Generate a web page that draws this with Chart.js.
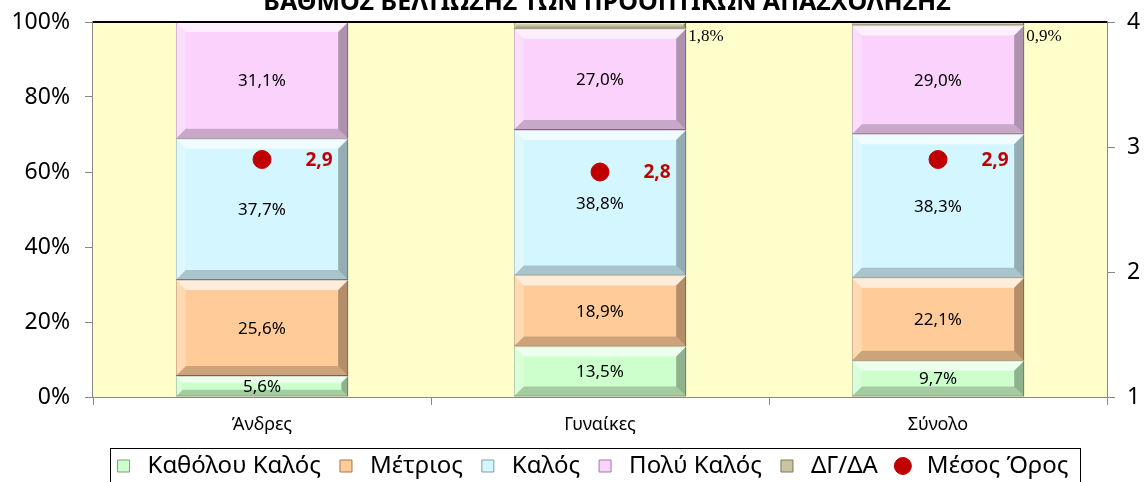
<!DOCTYPE html>
<html lang="el">
<head>
    <meta charset="UTF-8">
    <title>Βαθμός βελτίωσης των προοπτικών απασχόλησης</title>
    <style>
        body { margin: 0; padding: 0; background: #fff; }
        #wrap { width: 1148px; height: 482px; }
    </style>
</head>
<body>
    <div id="wrap"><canvas id="chart" width="1148" height="482"></canvas></div>

    <script src="https://cdn.jsdelivr.net/npm/chart.js"></script>
    <script>
        // Δεδομένα
        const categories = ['Άνδρες', 'Γυναίκες', 'Σύνολο'];
        const katholou = [5.6, 13.5, 9.7];
        const metrios = [25.6, 18.9, 22.1];
        const kalos = [37.7, 38.8, 38.3];
        const polyKalos = [31.1, 27.0, 29.0];
        const dgda = [0, 1.8, 0.9];
        const mesosOros = [2.9, 2.8, 2.9];
        const percentTicks = [0, 20, 40, 60, 80, 100];
        const meanTicks = [1, 2, 3, 4];

        const title = 'ΒΑΘΜΟΣ ΒΕΛΤΙΩΣΗΣ ΤΩΝ ΠΡΟΟΠΤΙΚΩΝ ΑΠΑΣΧΟΛΗΣΗΣ';
        const font = "'Noto Sans', sans-serif";
        const fmt = v => v.toFixed(1).replace('.', ',');

        function barSet(label, data, fill, border) {
            return {
                type: 'bar', label: label, data: data,
                backgroundColor: fill, borderColor: border, borderWidth: 1,
                borderSkipped: false, stack: 's', yAxisID: 'y',
                barPercentage: 0.51, categoryPercentage: 1, pointStyle: 'rect', order: 2
            };
        }

        function poly(ctx, pts, color) {
            ctx.fillStyle = color;
            ctx.beginPath();
            ctx.moveTo(pts[0][0], pts[0][1]);
            for (let k = 1; k < pts.length; k++) ctx.lineTo(pts[k][0], pts[k][1]);
            ctx.closePath();
            ctx.fill();
        }

        // ανάγλυφο στις μπάρες
        function bevel(ctx, el) {
            const l = el.x - el.width / 2, r = el.x + el.width / 2;
            const t = Math.min(el.y, el.base), bt = Math.max(el.y, el.base);
            const h = bt - t;
            if (h < 1) return;
            const b = Math.min(10, h / 3);
            poly(ctx, [[l, t], [r, t], [r - b, t + b], [l + b, t + b]], 'rgba(255,255,255,0.65)');
            poly(ctx, [[l, bt], [r, bt], [r - b, bt - b], [l + b, bt - b]], 'rgba(0,0,0,0.2)');
            poly(ctx, [[r, t], [r, bt], [r - b, bt - b], [r - b, t + b]], 'rgba(0,0,0,0.3)');
            poly(ctx, [[l, t], [l, bt], [l + b, bt - b], [l + b, t + b]], 'rgba(255,255,255,0.25)');
        }

        function noOverhang(s) {
            s.paddingTop = 0; s.paddingBottom = 0;
            s.paddingLeft = 0; s.paddingRight = 0;
        }

        // φόντο, πλαίσιο, τίτλος, ετικέτες
        const decor = {
            id: 'decor',
            afterLayout(chart) {
                // το υπόμνημα λίγο δεξιότερα, όπως στο πρωτότυπο
                chart.legend.left += 16;
                chart.legend.right += 16;
            },
            beforeDatasetsDraw(chart) {
                const { ctx, chartArea: a } = chart;
                ctx.save();
                ctx.fillStyle = '#FFFFCC';
                ctx.fillRect(a.left, a.top, a.right - a.left, a.bottom - a.top);
                ctx.restore();
            },
            afterDatasetsDraw(chart) {
                const { ctx, chartArea: a } = chart;
                ctx.save();
                chart.data.datasets.forEach((ds, i) => {
                    if (ds.type !== 'bar') return;
                    chart.getDatasetMeta(i).data.forEach(el => bevel(ctx, el));
                });

                ctx.strokeStyle = '#000';
                ctx.lineWidth = 2;
                ctx.beginPath();
                ctx.moveTo(a.left, a.top);
                ctx.lineTo(a.right, a.top);
                ctx.stroke();

                chart.data.datasets.forEach((ds, i) => {
                    const meta = chart.getDatasetMeta(i);
                    meta.data.forEach((el, j) => {
                        const v = ds.data[j];
                        if (ds.type === 'bar') {
                            if (!v) return;
                            if (ds.label === 'ΔΓ/ΔΑ') {
                                ctx.font = "17px 'Liberation Serif', serif";
                                ctx.fillStyle = '#000';
                                ctx.textAlign = 'left';
                                ctx.textBaseline = 'middle';
                                ctx.fillText(fmt(v) + '%', el.x + el.width / 2 + 2, el.y + 15);
                            } else {
                                ctx.font = '17px ' + font;
                                ctx.fillStyle = '#000';
                                ctx.textAlign = 'center';
                                ctx.textBaseline = 'middle';
                                ctx.fillText(fmt(v) + '%', el.x, (el.y + el.base) / 2 + 1);
                            }
                        } else {
                            ctx.font = 'bold 19px ' + font;
                            ctx.fillStyle = '#C00000';
                            ctx.textAlign = 'center';
                            ctx.textBaseline = 'middle';
                            ctx.fillText(fmt(v), el.x + 57, el.y + 1);
                        }
                    });
                });

                ctx.font = 'bold 25px ' + font;
                ctx.fillStyle = '#000';
                ctx.textAlign = 'center';
                ctx.textBaseline = 'alphabetic';
                ctx.fillText(title, 607, 10);
                ctx.restore();
            },
            afterDraw(chart) {
                const { ctx } = chart;
                ctx.save();
                ctx.strokeStyle = '#000';
                ctx.lineWidth = 1;
                ctx.strokeRect(110.5, 448.5, 970, 60);
                ctx.restore();
            }
        };

        new Chart(document.getElementById('chart'), {
            data: {
                labels: categories,
                datasets: [
                    barSet('Καθόλου Καλός', katholou, '#CCFFCC', '#7F9F7F'),
                    barSet('Μέτριος', metrios, '#FFCC99', '#A8784A'),
                    barSet('Καλός', kalos, '#D4F6FF', '#7F9FAA'),
                    barSet('Πολύ Καλός', polyKalos, '#FAD2FC', '#A47AA6'),
                    barSet('ΔΓ/ΔΑ', dgda, '#C9C39F', '#7E7856'),
                    {
                        type: 'line', label: 'Μέσος Όρος', data: mesosOros,
                        yAxisID: 'y2', showLine: false, order: 1,
                        pointStyle: 'circle', pointRadius: 9, pointHoverRadius: 9,
                        backgroundColor: '#C00000', borderColor: '#C00000'
                    }
                ]
            },
            options: {
                responsive: false,
                animation: false,
                layout: { padding: { top: 22, left: 0, right: 0, bottom: -6 } },
                plugins: {
                    tooltip: { enabled: false },
                    legend: {
                        position: 'bottom',
                        labels: {
                            usePointStyle: true,
                            boxHeight: 12,
                            padding: 13,
                            color: '#000',
                            font: { family: font, size: 24 },
                            sort: (a, b) => a.datasetIndex - b.datasetIndex
                        }
                    }
                },
                scales: {
                    x: {
                        stacked: true,
                        offset: true,
                        grid: { offset: true, drawOnChartArea: false, tickLength: 8, color: '#888' },
                        border: { color: '#888', width: 2 },
                        ticks: { color: '#000', font: { family: font, size: 18 }, padding: 9 },
                        afterFit(s) { s.height = 44; noOverhang(s); }
                    },
                    y: {
                        stacked: true,
                        min: 0, max: 100,
                        afterBuildTicks(s) { s.ticks = percentTicks.map(v => ({ value: v })); },
                        grid: { drawOnChartArea: false, tickLength: 8, color: '#888' },
                        border: { color: '#888', width: 2 },
                        ticks: { color: '#000', font: { family: font, size: 23 }, padding: 15, callback: v => v + '%' },
                        afterFit(s) { s.width = 93; noOverhang(s); }
                    },
                    y2: {
                        position: 'right',
                        min: 1, max: 4,
                        afterBuildTicks(s) { s.ticks = meanTicks.map(v => ({ value: v })); },
                        grid: { drawOnChartArea: false, tickLength: 8, color: '#888' },
                        border: { color: '#888', width: 2 },
                        ticks: { color: '#000', font: { family: font, size: 23 }, padding: 12 },
                        afterFit(s) { s.width = 41; noOverhang(s); }
                    }
                }
            },
            plugins: [decor]
        });
    </script>
</body>
</html>
